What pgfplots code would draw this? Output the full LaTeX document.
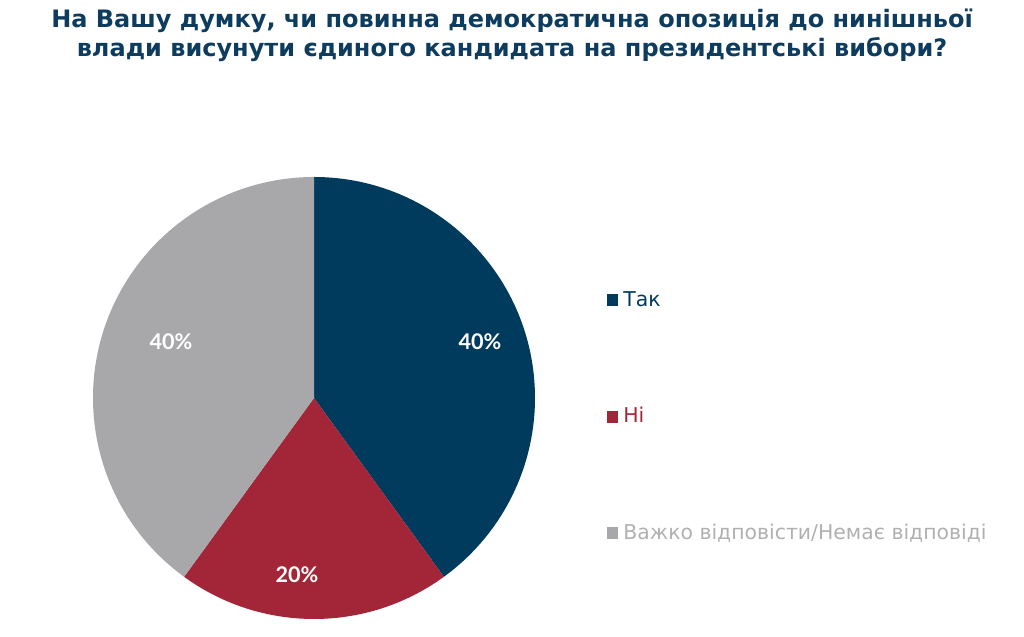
\documentclass[border=0pt]{standalone}
\usepackage{pgfplots}
\pgfplotsset{compat=1.18}
\usepackage{fontspec}
\setmainfont{DejaVu Sans}
\newfontfamily\titlefont{DejaVu Sans}
\newfontfamily\pctfont{Lato}
\definecolor{navy}{HTML}{003A5D}
\definecolor{wine}{HTML}{A32638}
\definecolor{gry}{HTML}{A8A8AA}
\definecolor{gtxt}{HTML}{B0B0B2}
\definecolor{ttl}{HTML}{0D3C5E}
% data (percent)
\def\vTak{40}
\def\vNi{20}
\def\vVazh{40}
\begin{document}
\begin{tikzpicture}
\begin{axis}[width=512pt,height=318.5pt,scale only axis,
  xmin=0,xmax=1024,ymin=0,ymax=637,hide axis,clip=false]
\path (axis cs:0,0) rectangle (axis cs:1024,637);
% slices
\fill[navy] (axis cs:314,239) -- ++(90:110.5pt) arc[start angle=90,end angle={90-3.6*\vTak},radius=110.5pt] -- cycle;
\fill[wine] (axis cs:314,239) -- ++({90-3.6*\vTak}:110.5pt) arc[start angle={90-3.6*\vTak},end angle={90-3.6*(\vTak+\vNi)},radius=110.5pt] -- cycle;
\fill[gry] (axis cs:314,239) -- ++({90-3.6*(\vTak+\vNi)}:110.5pt) arc[start angle={90-3.6*(\vTak+\vNi)},end angle={90-3.6*(\vTak+\vNi+\vVazh)},radius=110.5pt] -- cycle;
% percent labels
\node[anchor=base,text=white,font=\pctfont\bfseries\fontsize{10.8pt}{12pt}\selectfont] at (axis cs:480,287) {\vTak\%};
\node[anchor=base,text=white,font=\pctfont\bfseries\fontsize{10.8pt}{12pt}\selectfont] at (axis cs:297,54) {\vNi\%};
\node[anchor=base,text=white,font=\pctfont\bfseries\fontsize{10.8pt}{12pt}\selectfont] at (axis cs:171,287) {\vVazh\%};
% title
\node[anchor=base,text=ttl,font=\titlefont\bfseries\fontsize{12pt}{14pt}\selectfont] at (axis cs:512,609) {На Вашу думку, чи повинна демократична опозиція до нинішньої};
\node[anchor=base,text=ttl,font=\titlefont\bfseries\fontsize{12pt}{14pt}\selectfont] at (axis cs:512,580) {влади висунути єдиного кандидата на президентські вибори?};
% legend
\fill[navy] (axis cs:607,331) rectangle (axis cs:618,343);
\fill[wine] (axis cs:607,214) rectangle (axis cs:618,226);
\fill[gry] (axis cs:607,98) rectangle (axis cs:618,110);
\node[anchor=base west,inner sep=0pt,text=navy,font=\fontsize{10.2pt}{12pt}\selectfont] at (axis cs:623,330) {Так};
\node[anchor=base west,inner sep=0pt,text=wine,font=\fontsize{10.2pt}{12pt}\selectfont] at (axis cs:623,214) {Ні};
\node[anchor=base west,inner sep=0pt,text=gtxt,font=\fontsize{10.2pt}{12pt}\selectfont] at (axis cs:623,97) {Важко відповісти/Немає відповіді};
\end{axis}
\end{tikzpicture}
\end{document}
